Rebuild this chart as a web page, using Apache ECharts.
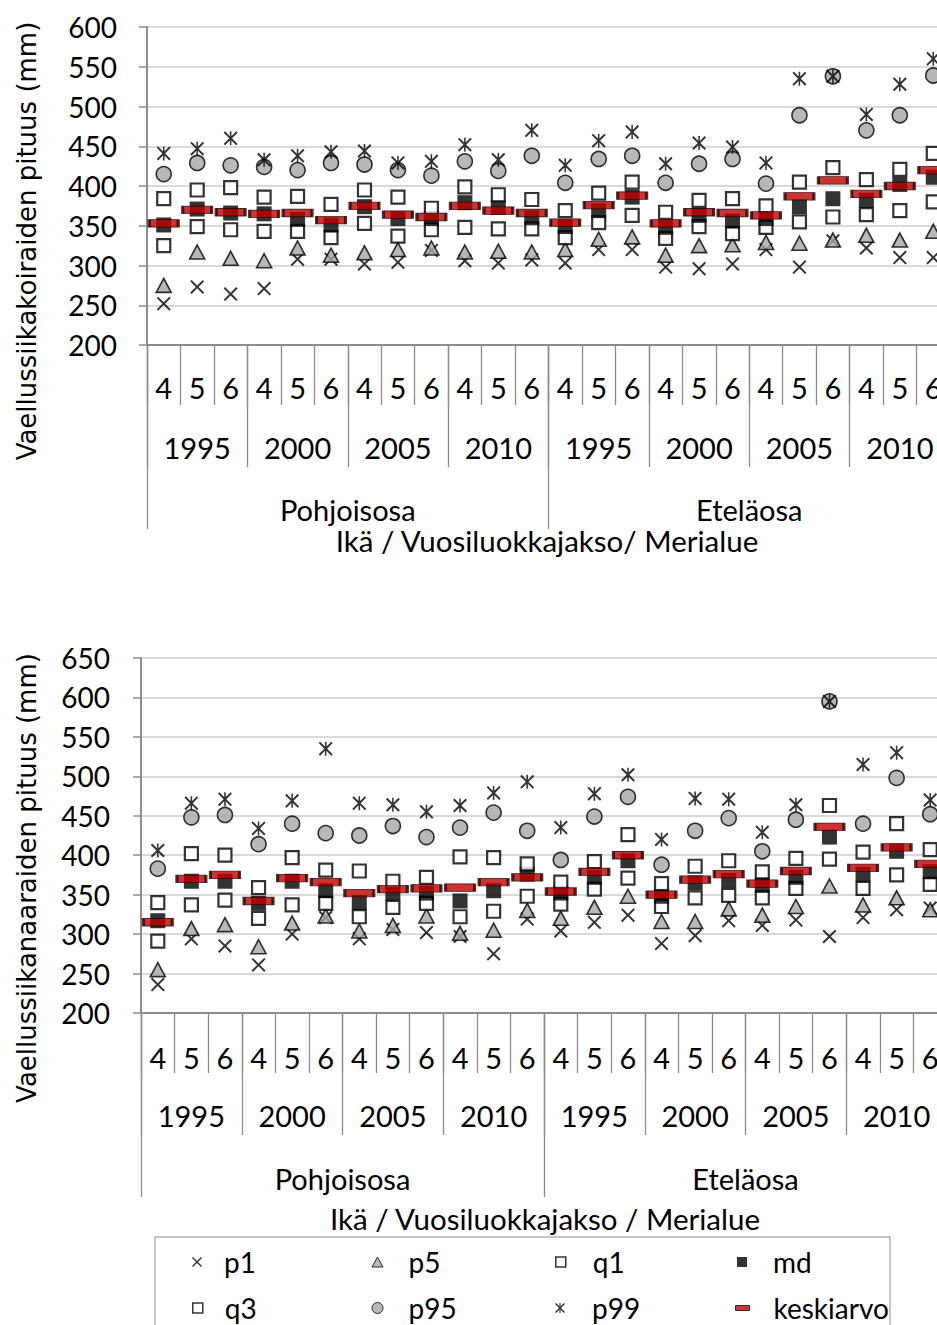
<!DOCTYPE html>
<html lang="fi">
<head>
<meta charset="utf-8">
<title>Vaellussiian pituusjakaumat</title>
<script src="https://cdn.jsdelivr.net/npm/echarts@6/dist/echarts.min.js"></script>
<style>
  html, body { margin: 0; padding: 0; background: #fff; overflow: hidden; }
  #chart { width: 960px; height: 1325px; }
</style>
</head>
<body>
<div id="chart"></div>
<script>
// Category levels: age / year-class period / sea area
const ageLabels = ['4', '5', '6'];
const periodLabels = ['1995', '2000', '2005', '2010'];
const areaLabels = ['Pohjoisosa', 'Eteläosa'];

// Males (koiraat), length in mm, one value per age/period/area category
const maleP1  = [252, 273, 264, 271, 308, 308, 302, 304, 319, 306, 303, 307, 303, 320, 320, 298, 296, 302, 320, 298, 331, 322, 310, 310];
const maleP5  = [275, 317, 309, 306, 322, 313, 316, 320, 322, 317, 318, 317, 320, 333, 336, 313, 325, 326, 329, 328, 332, 338, 332, 343];
const maleQ1  = [325, 349, 345, 343, 343, 335, 353, 337, 345, 348, 346, 346, 335, 354, 363, 334, 349, 340, 348, 355, 361, 364, 369, 380];
const maleMd  = [351, 371, 366, 365, 358, 351, 374, 359, 359, 379, 373, 360, 349, 369, 386, 348, 363, 356, 359, 374, 384, 382, 402, 411];
const maleQ3  = [384, 395, 398, 386, 387, 377, 395, 386, 372, 399, 389, 383, 369, 391, 405, 367, 382, 384, 375, 405, 423, 408, 421, 441];
const maleP95 = [415, 429, 426, 424, 420, 429, 427, 420, 413, 431, 419, 438, 404, 434, 438, 404, 428, 434, 403, 489, 538, 470, 489, 539];
const maleP99 = [441, 447, 460, 433, 438, 443, 444, 429, 431, 452, 433, 470, 426, 457, 468, 428, 454, 449, 429, 535, 538, 490, 528, 560];
const maleMean = [353, 370, 367, 365, 366, 357, 375, 364, 361, 375, 369, 366, 354, 376, 388, 353, 367, 366, 363, 387, 407, 390, 400, 420];

// Females (naaraat)
const femaleP1  = [236, 294, 285, 261, 300, 321, 294, 306, 302, 297, 275, 319, 304, 315, 324, 288, 298, 317, 311, 318, 297, 321, 331, 333];
const femaleP5  = [255, 307, 312, 284, 314, 323, 304, 311, 323, 301, 305, 330, 320, 334, 348, 316, 316, 332, 324, 335, 361, 337, 346, 331];
const femaleQ1  = [291, 337, 343, 320, 337, 339, 322, 334, 339, 322, 329, 348, 338, 357, 371, 335, 346, 349, 346, 358, 395, 358, 375, 363];
const femaleMd  = [317, 367, 367, 339, 367, 355, 340, 352, 352, 342, 355, 376, 352, 372, 393, 348, 365, 368, 362, 372, 423, 376, 405, 379];
const femaleQ3  = [340, 402, 400, 359, 397, 381, 380, 367, 372, 398, 397, 389, 366, 392, 426, 364, 386, 393, 379, 396, 463, 404, 440, 407];
const femaleP95 = [383, 448, 451, 414, 440, 428, 425, 437, 423, 435, 454, 431, 394, 449, 474, 388, 431, 447, 405, 445, 595, 440, 498, 452];
const femaleP99 = [406, 466, 471, 434, 469, 535, 466, 464, 455, 463, 479, 493, 435, 478, 502, 420, 472, 471, 429, 464, 595, 515, 530, 470];
const femaleMean = [315, 370, 375, 342, 371, 366, 352, 357, 358, 359, 366, 372, 354, 379, 400, 350, 369, 376, 364, 380, 436, 384, 410, 389];

// Unique category keys for each axis level
const ageCats = [];
const periodCats = [];
areaLabels.forEach(a => periodLabels.forEach(p => {
  periodCats.push(a + '|' + p);
  ageLabels.forEach(g => ageCats.push(a + '|' + p + '|' + g));
}));
const lastPart = v => String(v).split('|').pop();

const LABEL_FONT = 'Lato';
const AXIS_GRAY = '#8c8c8c';
const GRID_GRAY = '#d9d9d9';
const MARK_GRAY = '#a6a6a6';

const CROSS = 'path://M0,10 L10,0 L50,40 L90,0 L100,10 L60,50 L100,90 L90,100 L50,60 L10,100 L0,90 L40,50 Z';
const STAR = 'path://M0,10 L10,0 L50,40 L90,0 L100,10 L60,50 L100,90 L90,100 L50,60 L10,100 L0,90 L40,50 Z M44.5,0 L55.5,0 L55.5,100 L44.5,100 Z';

const seriesStyles = {
  p1: { symbol: CROSS, symbolSize: 14, itemStyle: { color: '#000' } },
  p5: { symbol: 'triangle', symbolSize: [15, 14], itemStyle: { color: MARK_GRAY, borderColor: '#000', borderWidth: 1.6 } },
  q1: { symbol: 'rect', symbolSize: 13, itemStyle: { color: '#fff', borderColor: '#000', borderWidth: 2.2 } },
  md: { symbol: 'rect', symbolSize: 15, itemStyle: { color: '#000' } },
  q3: { symbol: 'rect', symbolSize: 13, itemStyle: { color: '#fff', borderColor: '#000', borderWidth: 2.2 } },
  p95: { symbol: 'circle', symbolSize: 15, itemStyle: { color: MARK_GRAY, borderColor: '#000', borderWidth: 1.6 } },
  p99: { symbol: STAR, symbolSize: 14, itemStyle: { color: '#000' } },
  keskiarvo: { symbol: 'rect', symbolSize: [29, 7.5], itemStyle: { color: '#c00000', borderColor: '#1a0000', borderWidth: 1.6 } }
};

function panelSeries(idx, sets) {
  return Object.keys(sets).map(name => Object.assign({
    type: 'scatter',
    name: name,
    xAxisIndex: idx * 3,
    yAxisIndex: idx,
    data: sets[name],
    emphasis: { disabled: true },
    z: 3
  }, seriesStyles[name]));
}

function panelXAxes(gridIndex, ageMargin, periodMargin, areaMargin) {
  const label = (margin) => ({
    interval: 0,
    margin: margin,
    verticalAlign: 'middle',
    color: '#000',
    fontFamily: LABEL_FONT,
    fontSize: 29,
    formatter: lastPart
  });
  return [
    {
      type: 'category', gridIndex: gridIndex, position: 'bottom', data: ageCats,
      axisLine: { show: true, lineStyle: { color: AXIS_GRAY, width: 2 } },
      axisTick: { show: true, interval: 0, length: 60, lineStyle: { color: AXIS_GRAY, width: 1.3 } },
      axisLabel: label(ageMargin),
      splitLine: { show: false }
    },
    {
      type: 'category', gridIndex: gridIndex, position: 'bottom', data: periodCats,
      axisLine: { show: false },
      axisTick: { show: true, interval: 0, length: 122, lineStyle: { color: AXIS_GRAY, width: 1.3 } },
      axisLabel: label(periodMargin),
      splitLine: { show: false }
    },
    {
      type: 'category', gridIndex: gridIndex, position: 'bottom', data: areaLabels,
      axisLine: { show: false },
      axisTick: { show: true, interval: 0, length: 184, lineStyle: { color: AXIS_GRAY, width: 1.3 } },
      axisLabel: label(areaMargin),
      splitLine: { show: false }
    }
  ];
}

function panelYAxis(gridIndex, max, margin) {
  return {
    type: 'value', gridIndex: gridIndex, min: 200, max: max, interval: 50,
    axisLine: { show: true, lineStyle: { color: AXIS_GRAY, width: 2 } },
    axisTick: { show: true, length: 8, lineStyle: { color: AXIS_GRAY, width: 1.5 } },
    axisLabel: { margin: margin, color: '#000', fontFamily: LABEL_FONT, fontSize: 28 },
    splitLine: { show: true, lineStyle: { color: GRID_GRAY, width: 2 } }
  };
}

// Legend: one component per entry, laid out in a 4 x 2 table
const legendCols = [197, 377, 560, 742];
const legendRows = [1262, 1308];
const legendItems = [
  { name: 'p1', w: 10, h: 10, gap: 27 },
  { name: 'p5', w: 11, h: 10, gap: 31 },
  { name: 'q1', w: 10, h: 10, gap: 32 },
  { name: 'md', w: 10, h: 10, gap: 31 },
  { name: 'q3', w: 10, h: 10, gap: 27 },
  { name: 'p95', w: 11, h: 11, gap: 31 },
  { name: 'p99', w: 10, h: 10, gap: 32 },
  { name: 'keskiarvo', w: 14, h: 5, gap: 31 }
];
const legends = legendItems.map((it, i) => {
  const cx = legendCols[i % 4];
  const cy = legendRows[Math.floor(i / 4)];
  const st = seriesStyles[it.name];
  return {
    show: true,
    data: [{ name: it.name, icon: st.symbol }],
    left: cx - it.w / 2,
    top: cy - 15,
    padding: 0,
    itemWidth: it.w,
    itemHeight: it.h,
    selectedMode: false,
    itemStyle: { borderWidth: it.name === 'q1' || it.name === 'q3' ? 1.5 : 1 },
    textStyle: {
      fontFamily: LABEL_FONT, fontSize: 28, color: '#000', lineHeight: 30,
      padding: [0, 0, 0, it.gap - it.w / 2 - 5]
    }
  };
});

const chart = echarts.init(document.getElementById('chart'), null, { renderer: 'svg' });
chart.setOption({
  animation: false,
  backgroundColor: '#fff',
  grid: [
    { left: 147, top: 27, width: 803, height: 318, show: true, borderColor: '#6e6e6e', borderWidth: 1.2, backgroundColor: 'transparent' },
    { left: 141, top: 658, width: 806, height: 355, show: true, borderColor: '#6e6e6e', borderWidth: 1.2, backgroundColor: 'transparent' }
  ],
  xAxis: panelXAxes(0, 42, 102, 164).concat(panelXAxes(1, 44, 102, 165)),
  yAxis: [panelYAxis(0, 600, 30), panelYAxis(1, 650, 31)],
  legend: legends,
  graphic: [
    { type: 'text', x: 27, y: 241, rotation: Math.PI / 2,
      style: { text: 'Vaellussiikakoiraiden pituus (mm)', font: '26px "DejaVu Sans"', fill: '#000', align: 'center', verticalAlign: 'middle' } },
    { type: 'text', x: 27, y: 878, rotation: Math.PI / 2,
      style: { text: 'Vaellussiikanaaraiden pituus (mm)', font: '26px "DejaVu Sans"', fill: '#000', align: 'center', verticalAlign: 'middle' } },
    { type: 'text', x: 547, y: 540,
      style: { text: 'Ikä / Vuosiluokkajakso/ Merialue', font: '29.5px Lato', fill: '#000', align: 'center', verticalAlign: 'middle' } },
    { type: 'text', x: 545, y: 1218,
      style: { text: 'Ikä / Vuosiluokkajakso / Merialue', font: '29.5px Lato', fill: '#000', align: 'center', verticalAlign: 'middle' } },
    { type: 'rect', shape: { x: 155, y: 1237, width: 735, height: 110 },
      style: { fill: 'none', stroke: '#b3b3b3', lineWidth: 1.5 }, z: -1 }
  ],
  series: panelSeries(0, {
    p1: maleP1, p5: maleP5, q1: maleQ1, md: maleMd, q3: maleQ3, p95: maleP95, p99: maleP99, keskiarvo: maleMean
  }).concat(panelSeries(1, {
    p1: femaleP1, p5: femaleP5, q1: femaleQ1, md: femaleMd, q3: femaleQ3, p95: femaleP95, p99: femaleP99, keskiarvo: femaleMean
  }))
});
</script>
</body>
</html>
